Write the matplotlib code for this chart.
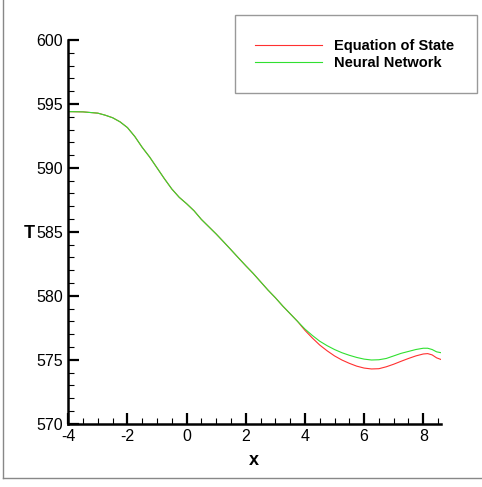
import matplotlib
matplotlib.use("Agg")
import matplotlib.pyplot as plt
from matplotlib.lines import Line2D
from matplotlib.patches import Rectangle
from matplotlib.ticker import MultipleLocator

plt.rcParams['font.family'] = ['Liberation Sans', 'DejaVu Sans']
plt.rcParams['axes.unicode_minus'] = False

# Temperature profiles along x
x_common = [-4.0, -3.5, -3.0, -2.75, -2.5, -2.25, -2.0, -1.75, -1.5, -1.25,
            -1.0, -0.75, -0.5, -0.25, 0.0, 0.25, 0.5, 0.75, 1.0, 1.25,
            1.5, 1.75, 2.0, 2.25, 2.5, 2.75, 3.0, 3.25, 3.5, 3.75]
t_common = [594.40, 594.38, 594.28, 594.12, 593.92, 593.60, 593.15, 592.45, 591.60, 590.85,
            590.00, 589.15, 588.35, 587.70, 587.20, 586.65, 585.97, 585.40, 584.83, 584.22,
            583.60, 582.97, 582.35, 581.75, 581.10, 580.45, 579.85, 579.20, 578.60, 578.00]

x_tail = [4.0, 4.25, 4.5, 4.75, 5.0, 5.25, 5.5, 5.75, 6.0, 6.25, 6.5,
          6.75, 7.0, 7.25, 7.5, 7.75, 8.0, 8.15, 8.3, 8.45, 8.6]
t_eos_tail = [577.30, 576.70, 576.15, 575.70, 575.30, 574.98, 574.72, 574.50, 574.35, 574.28, 574.30,
              574.45, 574.65, 574.88, 575.10, 575.30, 575.45, 575.48, 575.38, 575.15, 575.02]
t_nn_tail = [577.40, 576.90, 576.45, 576.10, 575.80, 575.55, 575.35, 575.18, 575.05, 574.98, 575.00,
             575.10, 575.30, 575.50, 575.65, 575.80, 575.90, 575.90, 575.80, 575.62, 575.55]

x_vals = x_common + x_tail
t_eos = t_common + t_eos_tail
t_nn = t_common + t_nn_tail

W, H = 482, 487
fig = plt.figure(figsize=(W / 100, H / 100), dpi=100)
ax = fig.add_axes([68.3 / W, 1 - 423.7 / H, (441 - 68.3) / W, (423.7 - 40) / H])

ax.plot(x_vals, t_eos, color='#ff3030', lw=0.8, label='Equation of State')
ax.plot(x_vals, t_nn, color='#30e030', lw=0.8, label='Neural Network')

ax.set_xlim(-4, 8.6)
ax.set_ylim(570, 600)
ax.xaxis.set_major_locator(MultipleLocator(2))
ax.xaxis.set_minor_locator(MultipleLocator(0.5))
ax.yaxis.set_major_locator(MultipleLocator(5))
ax.yaxis.set_minor_locator(MultipleLocator(1))

for s in ('top', 'right'):
    ax.spines[s].set_visible(False)
for s in ('left', 'bottom'):
    ax.spines[s].set_linewidth(1.8)

ax.tick_params(which='major', direction='in', length=8, width=1.6, labelsize=11.5, pad=4)
ax.tick_params(which='minor', direction='in', length=4.5, width=0.8)

ax.set_xlabel('x', fontsize=13, fontweight='bold')
ax.set_ylabel('T', fontsize=13, fontweight='bold', rotation=0, va='center', ha='center')
ax.xaxis.set_label_coords(0.498, -0.074)
ax.yaxis.set_label_coords(-0.105, 0.497)

# figure border lines (left and bottom)
fig.add_artist(Line2D([3 / W, 3 / W], [1 - 478 / H, 1.0], transform=fig.transFigure,
                      color='#888888', lw=1))
fig.add_artist(Line2D([3 / W, 1.0], [1 - 478 / H, 1 - 478 / H], transform=fig.transFigure,
                      color='#888888', lw=1))

# legend frame
fig.add_artist(Rectangle((235 / W, 1 - 93 / H), 242 / W, 78 / H, transform=fig.transFigure,
                         facecolor='white', edgecolor='#999999', lw=1))
leg = fig.legend(loc='upper left', bbox_to_anchor=(255 / W, 1 - 39 / H),
                 frameon=False, borderpad=0, borderaxespad=0,
                 handlelength=4.6, handletextpad=0.85, labelspacing=0.2,
                 prop={'size': 10.5, 'weight': 'bold'})
leg.set_zorder(5)

fig.savefig('out.png', dpi=100)
